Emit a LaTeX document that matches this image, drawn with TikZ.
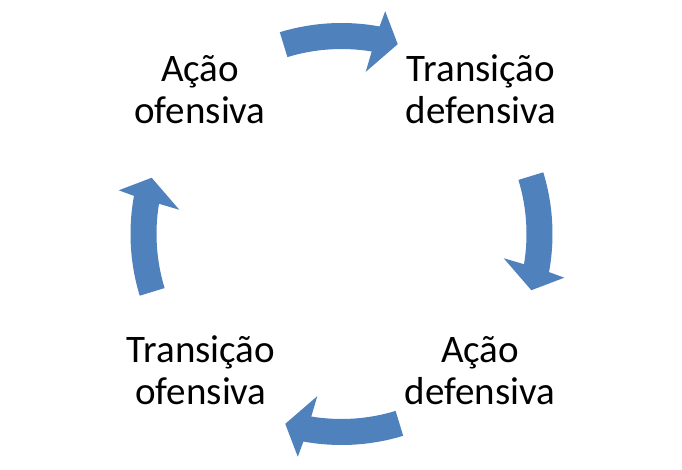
\documentclass[tikz,border=0pt]{standalone}
\usepackage{fontspec}
\setmainfont{Carlito}
\usetikzlibrary{calc}
\definecolor{cycblue}{HTML}{4F81BD}
\tikzset{
  lbl/.style={anchor=base, align=center, inner sep=0pt,
    font=\fontsize{39pt}{42pt}\selectfont, text=black},
  cycarrow/.style={fill=cycblue, draw=none}
}
\begin{document}
\begin{tikzpicture}[x=1pt,y=1pt]
\useasboundingbox[fill=white] (0,0) rectangle (682,-470);
\coordinate (C) at (341.5,-234);
\foreach \t in {90,0,-90,180}{
  \path[cycarrow] ($(C)+(\t+17:211pt)$)
    arc[start angle=\t+17, end angle=\t-10.4, radius=211pt]
    -- ($(C)+(\t-11.1:227pt)$)
    -- ($(C)+(\t-16.5:198pt)$)
    -- ($(C)+(\t-8.5:164pt)$)
    -- ($(C)+(\t-9.4:185pt)$)
    arc[start angle=\t-9.4, end angle=\t+17, radius=185pt]
    -- cycle;
}
\node[lbl] (ao) at (200,-124) {Ação\\ofensiva};
\node[lbl] (td) at (481,-124) {Transição\\defensiva};
\node[lbl] (ad) at (480,-404) {Ação\\defensiva};
\node[lbl] (to) at (201,-404) {Transição\\ofensiva};
\end{tikzpicture}
\end{document}
